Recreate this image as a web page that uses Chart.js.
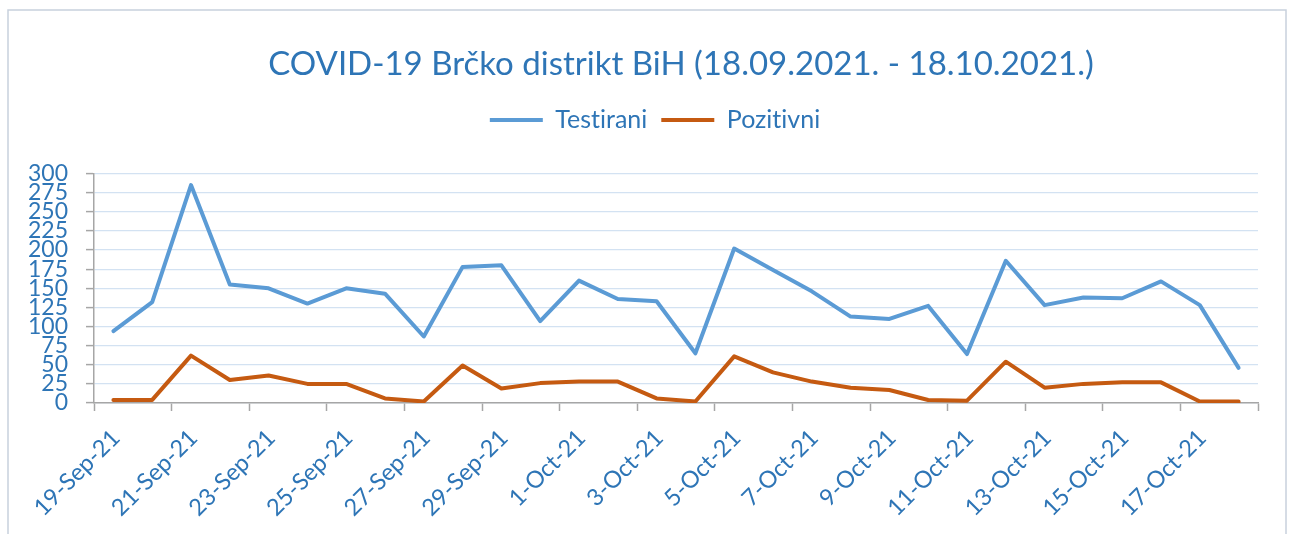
<!DOCTYPE html>
<html>
<head>
<meta charset="utf-8">
<script src="https://cdn.jsdelivr.net/npm/chart.js@4/dist/chart.umd.min.js"></script>
<style>
html,body{margin:0;padding:0;background:#fff;}
#wrap{width:1290px;height:534px;position:relative;}
</style>
</head>
<body>
<div id="wrap"><canvas id="c" width="1290" height="534"></canvas></div>
<script>
const dates = ['19-Sep-21','20-Sep-21','21-Sep-21','22-Sep-21','23-Sep-21','24-Sep-21','25-Sep-21','26-Sep-21','27-Sep-21','28-Sep-21',
  '29-Sep-21','30-Sep-21','1-Oct-21','2-Oct-21','3-Oct-21','4-Oct-21','5-Oct-21','6-Oct-21','7-Oct-21','8-Oct-21',
  '9-Oct-21','10-Oct-21','11-Oct-21','12-Oct-21','13-Oct-21','14-Oct-21','15-Oct-21','16-Oct-21','17-Oct-21','18-Oct-21'];
const testirani = [94,132,285,155,150,130,150,143,87,178,180,107,160,136,133,65,202,174,146,113,110,127,64,186,128,138,137,159,128,46];
const pozitivni = [4,4,62,30,36,25,25,6,2,49,19,26,28,28,6,2,61,40,28,20,17,4,3,54,20,25,27,27,2,2];
const tickLabels = ['19-Sep-21','21-Sep-21','23-Sep-21','25-Sep-21','27-Sep-21','29-Sep-21','1-Oct-21','3-Oct-21',
  '5-Oct-21','7-Oct-21','9-Oct-21','11-Oct-21','13-Oct-21','15-Oct-21','17-Oct-21'];

const BLUE_TEXT = '#2E75B6';
const FONT = 'Lato';

function noLig(chart) { try { chart.ctx.textRendering = 'optimizeSpeed'; } catch (e) {} }

const frame = {
  id: 'frame',
  beforeInit(chart) {
    noLig(chart);
    const legend = chart.legend;
    if (legend) {
      const fit = legend.fit;
      legend.fit = function () { fit.call(this); this.height += 31; };
    }
  },
  beforeUpdate: noLig,
  beforeLayout: noLig,
  afterLayout(chart) {
    if (chart.titleBlock) { chart.titleBlock.left += 52; chart.titleBlock.right += 52; }
    if (chart.legend) {
      chart.legend.left += 26; chart.legend.right += 26;
      (chart.legend.legendHitBoxes || []).forEach(b => { b.left += 26; });
    }
  },
  beforeDraw(chart) {
    noLig(chart);
    const ctx = chart.ctx;
    ctx.save();
    ctx.fillStyle = '#fff';
    ctx.fillRect(0, 0, chart.width, chart.height);
    ctx.strokeStyle = '#c8d1dd';
    ctx.lineWidth = 1.5;
    ctx.strokeRect(8, 10, 1278, 600);
    ctx.restore();
  }
};

new Chart(document.getElementById('c'), {
  type: 'line',
  data: {
    datasets: [
      { label: 'Testirani', data: testirani.map((v, i) => ({ x: i + 0.5, y: v })),
        borderColor: '#5B9BD5', backgroundColor: '#5B9BD5', borderWidth: 4, pointRadius: 0,
        borderCapStyle: 'round', borderJoinStyle: 'round', tension: 0 },
      { label: 'Pozitivni', data: pozitivni.map((v, i) => ({ x: i + 0.5, y: v })),
        borderColor: '#C55A11', backgroundColor: '#C55A11', borderWidth: 4, pointRadius: 0,
        borderCapStyle: 'round', borderJoinStyle: 'round', tension: 0 }
    ]
  },
  options: {
    responsive: false,
    animation: false,
    layout: { padding: { left: 0, right: 32, top: 0, bottom: 0 } },
    plugins: {
      tooltip: { enabled: false },
      title: {
        display: true,
        text: 'COVID-19 Brčko distrikt BiH (18.09.2021. - 18.10.2021.)',
        color: BLUE_TEXT,
        font: { family: FONT, size: 33, weight: 'normal' },
        padding: { top: 45, bottom: 9 }
      },
      legend: {
        labels: {
          color: BLUE_TEXT,
          font: { family: FONT, size: 25 },
          usePointStyle: true,
          pointStyle: 'line',
          pointStyleWidth: 53,
          padding: 14
        }
      }
    },
    scales: {
      x: {
        type: 'linear', min: 0, max: 30,
        ticks: {
          stepSize: 2, autoSkip: false, maxRotation: 45, minRotation: 45,
          color: BLUE_TEXT, font: { family: FONT, size: 23.5 },
          padding: 13, labelOffset: 22,
          callback: (v) => (v % 2 === 0 && tickLabels[v / 2] !== undefined) ? tickLabels[v / 2] : ''
        },
        grid: { drawOnChartArea: false, drawTicks: true, tickLength: 8, tickColor: '#a6a6a6', tickWidth: 1.5 },
        border: { color: '#a6a6a6', width: 1.5 },
        afterFit: (s) => { s.height = 131; s.paddingRight = 0; }
      },
      y: {
        min: 0, max: 300,
        ticks: { stepSize: 25, autoSkip: false, color: BLUE_TEXT, font: { family: FONT, size: 23 }, padding: 18 },
        grid: { color: '#d3e2f2', lineWidth: 1.2, tickLength: 8, tickColor: '#a6a6a6', tickWidth: 1.5 },
        border: { color: '#a6a6a6', width: 1.5 },
        afterFit: (s) => { s.width = 94; }
      }
    }
  },
  plugins: [frame]
});
</script>
</body>
</html>
